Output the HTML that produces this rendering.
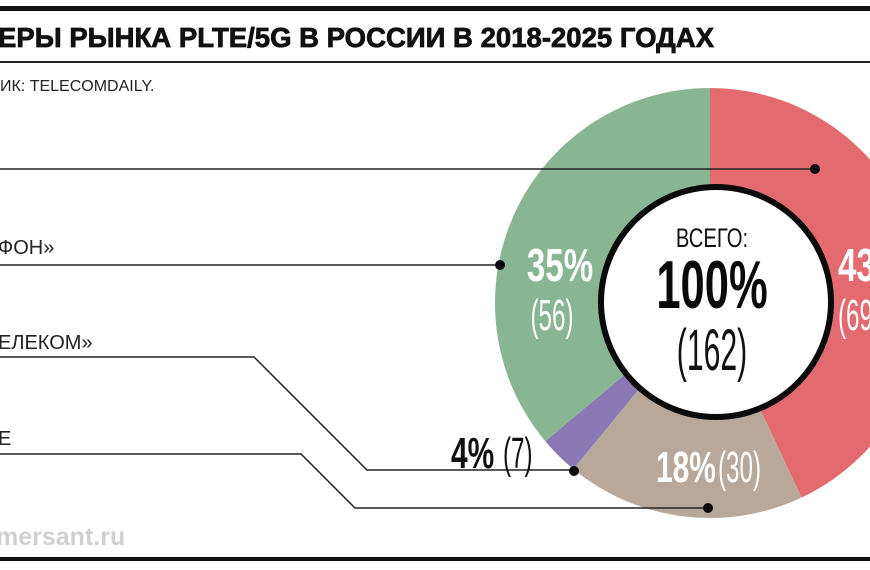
<!DOCTYPE html>
<html><head><meta charset="utf-8"><style>
html,body{margin:0;padding:0;background:#fff;width:870px;height:570px;overflow:hidden}
svg text{font-family:"Liberation Sans Narrow","Liberation Sans",sans-serif}
</style></head><body>
<svg width="870" height="570" viewBox="0 0 870 570" xmlns="http://www.w3.org/2000/svg">
<rect x="0" y="0" width="870" height="570" fill="#fff"/>
<rect x="0" y="6" width="870" height="5" fill="#111"/>
<text x="-2" y="47" font-family="Liberation Sans" font-weight="bold" font-size="28" fill="#111" stroke="#111" stroke-width="0.8" textLength="716" lengthAdjust="spacingAndGlyphs">ЕРЫ РЫНКА PLTE/5G В РОССИИ В 2018-2025 ГОДАХ</text>
<rect x="0" y="61" width="870" height="2" fill="#222"/>
<text x="0" y="91" font-size="16" fill="#222">ИК: TELECOMDAILY.</text>
<g transform="translate(710,303)">
<path d="M0,0 L0,-215 A215,215 0 0 1 91.6,194.5 Z" fill="#e36b6f"/>
<path d="M0,0 L91.6,194.5 A215,215 0 0 1 -136.7,166 Z" fill="#b9a89a"/>
<path d="M0,0 L-136.7,166 A215,215 0 0 1 -164.7,138.2 Z" fill="#8a79b5"/>
<path d="M0,0 L-164.7,138.2 A215,215 0 0 1 0,-215 Z" fill="#88b692"/>
</g>
<circle cx="716" cy="302" r="115" fill="#fff" stroke="#0a0a0a" stroke-width="6"/>
<g stroke="#222" stroke-width="1.5" fill="none">
<polyline points="0,169 815,169"/>
<polyline points="0,265 500,265"/>
<polyline points="0,357 254,357 367,470 573,470"/>
<polyline points="0,454 301,454 355,508 708,508"/>
</g>
<g fill="#0a0a0a">
<circle cx="815" cy="169" r="5"/>
<circle cx="500" cy="265" r="5"/>
<circle cx="574" cy="471" r="5"/>
<circle cx="708" cy="508" r="5"/>
</g>
<text x="-2" y="254" font-size="20" fill="#222">ФОН»</text>
<text x="-2" y="349" font-size="20" fill="#222">ЕЛЕКОМ»</text>
<text x="-2" y="445" font-size="20" fill="#222">Е</text>
<text x="560" y="281" font-size="46" font-weight="bold" fill="#fff" text-anchor="middle" transform="translate(560,0) scale(0.72,1) translate(-560,0)">35%</text>
<text x="552" y="330" font-size="44" fill="#fff" text-anchor="middle" transform="translate(552,0) scale(0.55,1) translate(-552,0)">(56)</text>
<text x="838" y="281" font-size="46" font-weight="bold" fill="#fff" transform="translate(838,0) scale(0.72,1) translate(-838,0)">43%</text>
<text x="838" y="330" font-size="44" fill="#fff" transform="translate(838,0) scale(0.55,1) translate(-838,0)">(69)</text>
<text x="656" y="482" font-size="44" font-weight="bold" fill="#fff" transform="translate(656,0) scale(0.68,1) translate(-656,0)">18%</text>
<text x="718" y="482" font-size="44" fill="#fff" transform="translate(718,0) scale(0.55,1) translate(-718,0)">(30)</text>
<text x="451" y="468" font-size="44" font-weight="bold" fill="#111" transform="translate(451,0) scale(0.68,1) translate(-451,0)">4%</text>
<text x="503" y="468" font-size="44" fill="#111" transform="translate(503,0) scale(0.55,1) translate(-503,0)">(7)</text>
<text x="712" y="247" font-size="27" fill="#111" text-anchor="middle" transform="translate(712,0) scale(0.75,1) translate(-712,0)">ВСЕГО:</text>
<text x="712" y="308" font-size="68" font-weight="bold" fill="#0a0a0a" text-anchor="middle" transform="translate(712,0) scale(0.64,1) translate(-712,0)">100%</text>
<text x="712" y="370" font-size="58" fill="#111" text-anchor="middle" transform="translate(712,0) scale(0.52,1) translate(-712,0)">(162)</text>
<text x="-4" y="545" font-family="Liberation Sans" font-weight="bold" font-size="25" fill="#d0d0d0">mersant.ru</text>
<rect x="0" y="557" width="870" height="4" fill="#111"/>
</svg>
</body></html>
